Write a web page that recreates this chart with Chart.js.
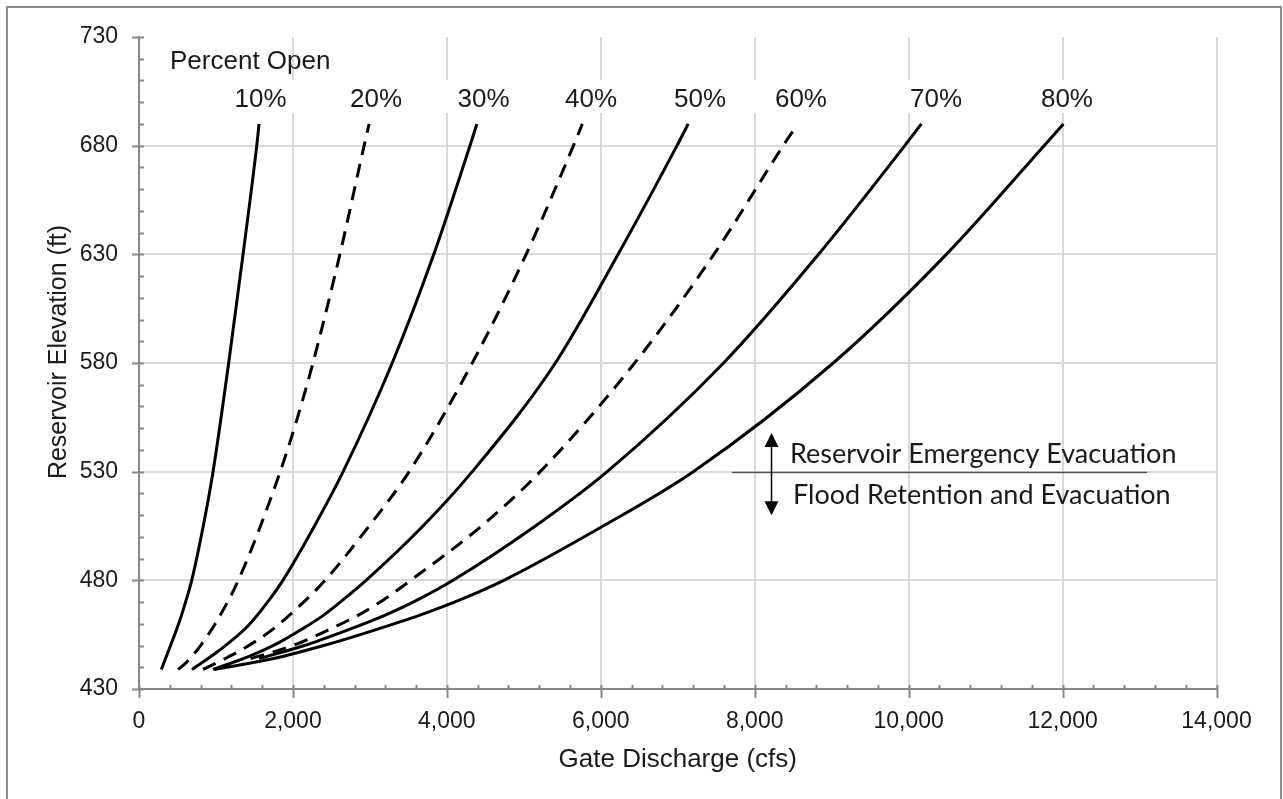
<!DOCTYPE html>
<html>
<head>
<meta charset="utf-8">
<script src="https://cdn.jsdelivr.net/npm/chart.js@4/dist/chart.umd.min.js"></script>
<style>
  html, body { margin: 0; padding: 0; background: #fff; }
  canvas { display: block; }
</style>
</head>
<body>
<canvas id="rating" width="1283" height="799"></canvas>
<script>
// Gate rating curves: reservoir elevation (ft) vs. gate discharge (cfs)
const openings = ['10%', '20%', '30%', '40%', '50%', '60%', '70%', '80%'];

const elev10 = [439, 450, 460, 470, 480, 505, 530, 580, 630, 680, 690];
const flow10 = [290, 410, 515, 605, 685, 835, 962, 1165, 1352, 1530, 1560];

const elev20 = [439, 442, 450, 460, 480, 529, 555, 580, 630, 680, 690];
const flow20 = [507, 610, 800, 990, 1290, 1825, 2060, 2260, 2610, 2925, 2990];

const elev30 = [439, 447, 459, 471, 480, 505, 530, 580, 630, 680, 690];
const flow30 = [689, 1014, 1415, 1692, 1870, 2280, 2652, 3290, 3830, 4300, 4390];

const elev40 = [439, 444, 449, 457, 468, 480, 505, 530, 580, 630, 680, 690];
const flow40 = [832, 1120, 1380, 1720, 2080, 2418, 2990, 3510, 4330, 5030, 5645, 5760];

const elev50 = [439, 445, 451, 457, 464, 471, 480, 505, 530, 580, 630, 680, 690];
const flow50 = [962, 1430, 1800, 2093, 2400, 2650, 2950, 3690, 4330, 5410, 6225, 6990, 7136];

const elev60 = [444, 450, 457, 464, 471, 480, 505, 530, 580, 630, 680, 689];
const flow60 = [1450, 2000, 2450, 2850, 3175, 3530, 4450, 5213, 6440, 7470, 8370, 8540];

const elev70 = [444, 450, 457, 464, 471, 480, 505, 530, 580, 630, 680, 690];
const flow70 = [1560, 2150, 2700, 3200, 3620, 4080, 5150, 6083, 7595, 8830, 9950, 10165];

const elev80 = [439, 444, 450, 457, 464, 471, 480, 505, 530, 580, 630, 680, 690];
const flow80 = [980, 1750, 2400, 3050, 3650, 4170, 4740, 6030, 7201, 9020, 10490, 11760, 12011];

const dashedOpenings = ['20%', '40%', '60%'];

const xTicks = [0, 2000, 4000, 6000, 8000, 10000, 12000, 14000];
const yTicks = [430, 480, 530, 580, 630, 680, 730];

// Pool boundary between the two operating zones
const zoneElevation = 530;
const zoneUpper = 'Reservoir Emergency Evacuation';
const zoneLower = 'Flood Retention and Evacuation';

const series = [
  [elev10, flow10], [elev20, flow20], [elev30, flow30], [elev40, flow40],
  [elev50, flow50], [elev60, flow60], [elev70, flow70], [elev80, flow80]
];

const datasets = series.map(([elev, flow], i) => ({
  label: openings[i],
  data: flow.map((q, k) => ({ x: q, y: elev[k] })),
  showLine: true,
  borderColor: '#000',
  borderWidth: 3,
  borderDash: dashedOpenings.includes(openings[i]) ? [14, 9] : [],
  pointRadius: 0,
  cubicInterpolationMode: 'monotone',
  fill: false
}));

// Label anchors in data units (discharge, elevation)
const labelAnchors = {
  title: { x: 403, y: 715.2 },
  pct: [1579, 3080, 4476, 5873, 7289, 8601, 10356, 12057],
  pctElev: 697.7,
  arrowX: 8218, arrowTop: 547.8, arrowBottom: 510,
  lineFrom: 7705, lineTo: 13097,
  textX: 8459
};

const AXIS = '#878787';
const SANS = '"Liberation Sans", Arial, sans-serif';

const decorations = {
  id: 'decorations',
  beforeDatasetsDraw(chart) {
    const { ctx, scales: { x } } = chart;
    ctx.save();
    // white backings behind the opening labels
    ctx.fillStyle = '#fff';
    labelAnchors.pct.forEach(v => {
      const cx = x.getPixelForValue(v);
      ctx.fillRect(cx - 50, 80, 100, 33);
    });
    ctx.restore();
  },
  afterDraw(chart) {
    const { ctx, chartArea, scales: { x, y } } = chart;
    ctx.save();
    ctx.strokeStyle = AXIS;
    ctx.lineWidth = 2;
    // x-axis tick marks
    const yb = chartArea.bottom + 1;
    for (let v = 0; v <= 14000; v += 400) {
      const px = Math.round(x.getPixelForValue(v)) + 0.5;
      const major = v % 2000 === 0;
      ctx.beginPath();
      ctx.moveTo(px, yb - 5);
      ctx.lineTo(px, major ? yb + 8 : yb);
      ctx.stroke();
    }
    // y-axis tick marks
    const xl = chartArea.left;
    for (let v = 430; v <= 730; v += 10) {
      const py = Math.round(y.getPixelForValue(v)) + 0.5;
      const major = (v - 430) % 50 === 0;
      ctx.beginPath();
      ctx.moveTo(major ? xl - 7 : xl, py);
      ctx.lineTo(xl + 5, py);
      ctx.stroke();
    }

    // curve labels
    ctx.fillStyle = '#1a1a1a';
    ctx.font = '26px ' + SANS;
    ctx.textBaseline = 'alphabetic';
    ctx.textAlign = 'left';
    ctx.fillText('Percent Open', x.getPixelForValue(labelAnchors.title.x), y.getPixelForValue(labelAnchors.title.y));
    ctx.textAlign = 'center';
    const by = y.getPixelForValue(labelAnchors.pctElev);
    openings.forEach((t, i) => ctx.fillText(t, x.getPixelForValue(labelAnchors.pct[i]), by));

    // zone boundary and arrows
    const zy = Math.round(y.getPixelForValue(zoneElevation)) + 0.5;
    ctx.strokeStyle = '#555';
    ctx.lineWidth = 1.5;
    ctx.beginPath();
    ctx.moveTo(x.getPixelForValue(labelAnchors.lineFrom), zy);
    ctx.lineTo(x.getPixelForValue(labelAnchors.lineTo), zy);
    ctx.stroke();

    const ax = Math.round(x.getPixelForValue(labelAnchors.arrowX)) + 0.5;
    const at = y.getPixelForValue(labelAnchors.arrowTop);
    const ab = y.getPixelForValue(labelAnchors.arrowBottom);
    ctx.strokeStyle = '#000';
    ctx.fillStyle = '#000';
    ctx.lineWidth = 1.5;
    ctx.beginPath();
    ctx.moveTo(ax, at + 8);
    ctx.lineTo(ax, ab - 8);
    ctx.stroke();
    ctx.beginPath();
    ctx.moveTo(ax, at); ctx.lineTo(ax - 7, at + 14); ctx.lineTo(ax + 7, at + 14); ctx.closePath();
    ctx.fill();
    ctx.beginPath();
    ctx.moveTo(ax, ab); ctx.lineTo(ax - 7, ab - 14); ctx.lineTo(ax + 7, ab - 14); ctx.closePath();
    ctx.fill();

    ctx.fillStyle = '#1a1a1a';
    ctx.font = '27px Lato, "Open Sans", sans-serif';
    ctx.textAlign = 'left';
    const tx = x.getPixelForValue(labelAnchors.textX);
    ctx.fillText(zoneUpper, tx, zy - 10);
    ctx.fillText(zoneLower, tx + 3, zy + 31);

    // axis titles
    ctx.textAlign = 'center';
    ctx.font = '26px ' + SANS;
    ctx.fillText('Gate Discharge (cfs)', (chartArea.left + chartArea.right) / 2, 767);
    ctx.font = '25px ' + SANS;
    ctx.translate(66, 352);
    ctx.rotate(-Math.PI / 2);
    ctx.fillText('Reservoir Elevation (ft)', 0, 0);
    ctx.restore();

    // frame around the figure
    ctx.save();
    ctx.strokeStyle = '#8c8c8c';
    ctx.lineWidth = 2;
    ctx.strokeRect(7, 7, 1274, 800);
    ctx.restore();
  }
};

new Chart(document.getElementById('rating'), {
  type: 'scatter',
  data: { datasets },
  options: {
    responsive: false,
    animation: false,
    devicePixelRatio: 1,
    layout: { padding: { left: 0, right: 66.5, top: 37, bottom: 0 } },
    plugins: { legend: { display: false }, tooltip: { enabled: false } },
    scales: {
      x: {
        type: 'linear', min: 0, max: 14000,
        afterFit(s) { s.height = 110; },
        afterBuildTicks(s) { s.ticks = xTicks.map(v => ({ value: v })); },
        ticks: {
          padding: 19,
          color: '#1a1a1a',
          font: { family: SANS, size: 23 },
          callback: v => v.toLocaleString('en-US')
        },
        grid: { color: c => c.tick && c.tick.value === 0 ? 'rgba(0,0,0,0)' : '#d9d9d9', lineWidth: 2, drawTicks: false },
        border: { color: AXIS, width: 2 }
      },
      y: {
        type: 'linear', min: 430, max: 730,
        afterFit(s) { s.width = 139; },
        afterBuildTicks(s) { s.ticks = yTicks.map(v => ({ value: v })); },
        ticks: {
          padding: 21,
          color: '#1a1a1a',
          font: { family: SANS, size: 23 }
        },
        grid: { color: c => c.tick && (c.tick.value === 730 || c.tick.value === 430) ? 'rgba(0,0,0,0)' : '#d9d9d9', lineWidth: 2, drawTicks: false },
        border: { color: AXIS, width: 2 }
      }
    }
  },
  plugins: [decorations]
});
</script>
</body>
</html>
